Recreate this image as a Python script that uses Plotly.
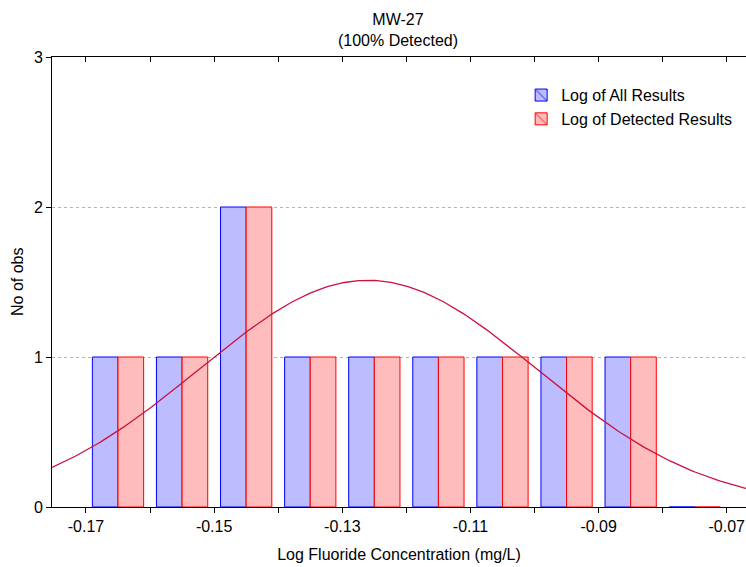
import numpy as np
import plotly.graph_objects as go

# ---- data ----
bin_centers = [-0.165, -0.155, -0.145, -0.135, -0.125, -0.115, -0.105, -0.095, -0.085, -0.075]
all_counts = [1, 1, 2, 1, 1, 1, 1, 1, 1, 0]
det_counts = [1, 1, 2, 1, 1, 1, 1, 1, 1, 0]
n_obs = 10
bin_width = 0.01
fit_mean = -0.126
fit_sd = 0.0264
x_tick_vals = [-0.17, -0.15, -0.13, -0.11, -0.09, -0.07]
x_tick_text = ["-0.17", "-0.15", "-0.13", "-0.11", "-0.09", "-0.07"]
y_tick_vals = [0, 1, 2, 3]

FONT = "Liberation Sans, Arial, sans-serif"
FS = 16
BLUE_FILL = "#bcbcff"
BLUE_EDGE = "#0000ff"
RED_FILL = "#ffbcbc"
RED_EDGE = "#ff0000"
CURVE = "#cc1040"

x_rng = [-0.1753, -0.0670]

fig = go.Figure()

# histogram bars
fig.add_trace(go.Bar(
    x=bin_centers, y=all_counts, width=0.004, offset=-0.004,
    marker=dict(color=BLUE_FILL, line=dict(color=BLUE_EDGE, width=1)),
    showlegend=False, name="Log of All Results"))
fig.add_trace(go.Bar(
    x=bin_centers, y=det_counts, width=0.004, offset=0.0,
    marker=dict(color=RED_FILL, line=dict(color=RED_EDGE, width=1)),
    showlegend=False, name="Log of Detected Results"))

# fitted normal curve (expected count per bin)
xc = np.linspace(x_rng[0], x_rng[1], 300)
yc = n_obs * bin_width / (fit_sd * np.sqrt(2 * np.pi)) * np.exp(-0.5 * ((xc - fit_mean) / fit_sd) ** 2)
fig.add_trace(go.Scatter(x=xc, y=yc, mode="lines",
                         line=dict(color=CURVE, width=1.3), showlegend=False, hoverinfo="skip"))

# legend entries
fig.add_trace(go.Bar(
    x=[None], y=[None], name="Log of All Results",
    marker=dict(color=BLUE_FILL, line=dict(color=BLUE_EDGE, width=1),
                pattern=dict(shape="\\", fgcolor=BLUE_EDGE, bgcolor=BLUE_FILL, size=11, solidity=0.15))))
fig.add_trace(go.Bar(
    x=[None], y=[None], name="Log of Detected Results",
    marker=dict(color=RED_FILL, line=dict(color=RED_EDGE, width=1),
                pattern=dict(shape="\\", fgcolor=RED_EDGE, bgcolor=RED_FILL, size=11, solidity=0.15))))

# invisible trace for top axis
fig.add_trace(go.Scatter(x=[x_rng[0]], y=[0], xaxis="x2", mode="markers",
                         marker=dict(opacity=0), showlegend=False, hoverinfo="skip"))

fig.update_layout(
    width=746, height=567,
    margin=dict(l=52, r=0, t=57, b=60),
    paper_bgcolor="white", plot_bgcolor="white",
    barmode="overlay",
    font=dict(family=FONT, size=FS, color="black"),
    title=dict(text="MW-27<br>(100% Detected)", x=398 / 746, xanchor="center",
               xref="container", y=1 - 25 / 567, yanchor="top", yref="container",
               font=dict(family=FONT, size=FS, color="black")),
    xaxis=dict(range=x_rng, tickvals=x_tick_vals, ticktext=x_tick_text,
               ticks="outside", ticklen=5, tickcolor="black", automargin=False,
               minor=dict(dtick=0.01, tick0=-0.17, ticks="outside", ticklen=5, tickcolor="black"),
               showline=True, linecolor="black", linewidth=1,
               showgrid=False, zeroline=False,
               title=dict(text="Log Fluoride Concentration (mg/L)", standoff=14,
                          font=dict(family=FONT, size=FS))),
    xaxis2=dict(range=x_rng, overlaying="x", side="top", anchor="y",
                tickmode="linear", tick0=-0.17, dtick=0.01, ticks="inside", ticklen=5,
                tickcolor="black", showticklabels=False, automargin=False,
                showline=True, linecolor="black", linewidth=1,
                showgrid=False, zeroline=False),
    yaxis=dict(range=[0, 3], tickvals=y_tick_vals, ticks="outside", ticklen=5,
               tickcolor="black", showline=True, linecolor="black", linewidth=1,
               showgrid=True, gridcolor="#b4b4b4", griddash="dot", gridwidth=1,
               zeroline=False, automargin=False),
    annotations=[dict(text="No of obs", xref="paper", yref="paper",
                      x=(17 - 52) / 694, y=0.5, xanchor="center", yanchor="middle",
                      textangle=-90, showarrow=False, font=dict(family=FONT, size=FS))],
    legend=dict(x=0.676, y=0.953, xanchor="left", yanchor="top",
                bgcolor="rgba(255,255,255,0)", font=dict(family=FONT, size=FS),
                tracegroupgap=0, itemwidth=30),
    showlegend=True,
)

fig.write_html("out.html", config={"displayModeBar": False},
               post_script="document.body.style.margin='0px';document.body.style.padding='0px';")
